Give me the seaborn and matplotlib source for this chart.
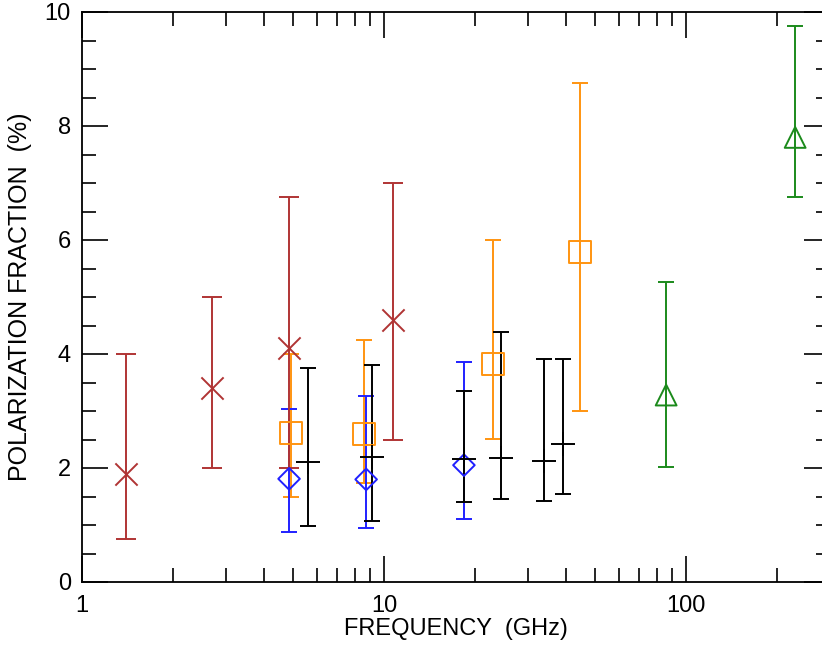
import numpy as np
import pandas as pd
import matplotlib
matplotlib.use("Agg")
import matplotlib.pyplot as plt
import seaborn as sns
from matplotlib.ticker import LogLocator, MultipleLocator, FuncFormatter, NullFormatter

# -------- data --------
# brown crosses
br_freq = [1.40, 2.70, 4.85, 10.7]
br_pol = [1.90, 3.40, 4.10, 4.60]
br_lo = [0.75, 2.00, 2.00, 2.50]
br_hi = [4.00, 5.00, 6.75, 7.00]

# orange squares
or_freq = [4.92, 8.57, 23.0, 44.7]
or_pol = [2.62, 2.60, 3.83, 5.79]
or_lo = [1.50, 1.74, 2.51, 3.00]
or_hi = [4.00, 4.25, 6.00, 8.75]

# blue diamonds
bl_freq = [4.85, 8.73, 18.4]
bl_pol = [1.81, 1.80, 2.05]
bl_lo = [0.88, 0.94, 1.11]
bl_hi = [3.04, 3.27, 3.86]

# black plus signs
bk_freq = [5.61, 9.14, 18.4, 24.5, 33.9, 39.2]
bk_pol = [2.10, 2.20, 2.16, 2.18, 2.12, 2.42]
bk_lo = [0.99, 1.07, 1.40, 1.45, 1.42, 1.54]
bk_hi = [3.75, 3.80, 3.35, 4.38, 3.91, 3.92]

# green triangles
gr_freq = [86.0, 230.0]
gr_pol = [3.28, 7.80]
gr_lo = [2.01, 6.76]
gr_hi = [5.26, 9.75]

series = [
    # name, freq, pol, lo, hi, color, marker, size, capsize
    ("green", gr_freq, gr_pol, gr_lo, gr_hi, "#1b8a1b", "^", 15, 6),
    ("orange", or_freq, or_pol, or_lo, or_hi, "#ff9410", "s", 16, 6),
    ("blue", bl_freq, bl_pol, bl_lo, bl_hi, "#2020ff", "D", 11, 5.5),
    ("brown", br_freq, br_pol, br_lo, br_hi, "#b03434", "x", 16, 7),
    ("black", bk_freq, bk_pol, bk_lo, bk_hi, "black", "+", 17, 6),
]

sns.set_theme(style="ticks")
plt.rcParams["font.family"] = ["Liberation Sans", "DejaVu Sans"]

fig = plt.figure(figsize=(8.22, 6.45), dpi=100)
ax = fig.add_axes([82 / 822, 63 / 645, 748 / 822, 570 / 645])

for name, f, p, lo, hi, col, mk, ms, cs in series:
    df = pd.DataFrame({"freq": f, "pol": p, "lo": lo, "hi": hi})
    yerr = np.vstack([df["pol"] - df["lo"], df["hi"] - df["pol"]])
    ax.errorbar(df["freq"], df["pol"], yerr=yerr, fmt="none", ecolor=col,
                elinewidth=1.4, capsize=cs, capthick=1.4)
    if mk in ("x", "+"):
        sns.scatterplot(data=df, x="freq", y="pol", marker=mk, s=ms ** 2,
                        color=col, linewidth=1.4, ax=ax, legend=False, zorder=3)
    else:
        sns.scatterplot(data=df, x="freq", y="pol", marker=mk, s=ms ** 2,
                        facecolors="none", edgecolor=col, linewidth=1.4,
                        ax=ax, legend=False, zorder=3)

ax.set_xscale("log")
ax.set_xlim(1, 300)
ax.set_ylim(0, 10)

ax.xaxis.set_major_locator(LogLocator(base=10, numticks=10))
ax.xaxis.set_minor_locator(LogLocator(base=10, subs=np.arange(2, 10), numticks=20))
ax.xaxis.set_major_formatter(FuncFormatter(lambda v, pos: f"{v:g}"))
ax.xaxis.set_minor_formatter(NullFormatter())
ax.yaxis.set_major_locator(MultipleLocator(2))
ax.yaxis.set_minor_locator(MultipleLocator(0.5))

ax.tick_params(which="both", direction="in", top=True, right=True,
               color="black", width=1.2, labelsize=17, labelcolor="black")
ax.tick_params(axis="x", pad=9)
ax.tick_params(axis="y", pad=8)
ax.tick_params(which="major", length=19)
ax.tick_params(which="minor", length=10)
for s in ax.spines.values():
    s.set_color("black")
    s.set_linewidth(1.3)

ax.set_xlabel("FREQUENCY  (GHz)", fontsize=17, labelpad=1, color="black")
ax.set_ylabel("POLARIZATION FRACTION  (%)", fontsize=18, labelpad=9, color="black")

fig.savefig("out.png", dpi=100)
